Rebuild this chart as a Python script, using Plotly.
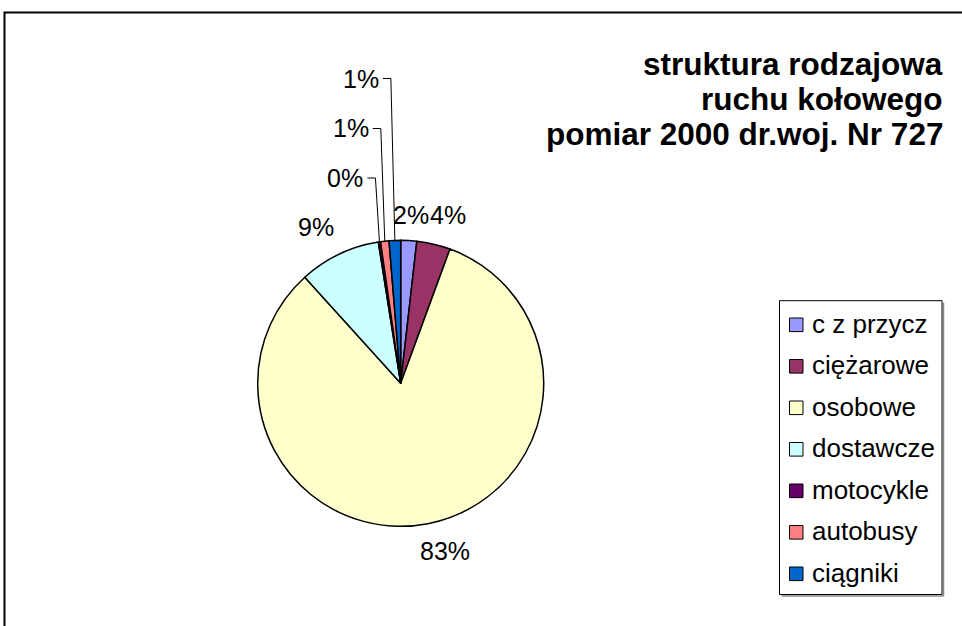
import math
import plotly.graph_objects as go

# ---- data ----
categories = ["c z przycz", "ciężarowe", "osobowe", "dostawcze", "motocykle", "autobusy", "ciągniki"]
values = [1.8, 3.8, 82.7, 9.2, 0.25, 0.95, 1.3]
colors = ["#9999FF", "#993366", "#FFFFCC", "#CCFFFF", "#660066", "#FF8080", "#0066CC"]
title_lines = ["struktura rodzajowa", "ruchu kołowego", "pomiar 2000 dr.woj. Nr 727"]

# ---- layout constants (pixels) ----
W, H = 962, 626
CX, CY, R = 400.7, 383.3, 143.0
FONT = "Liberation Sans, Arial, sans-serif"


def px(x):
    return x / W


def py(y):
    return 1 - y / H


total = sum(values)
pct_text = [f"{round(v / total * 100)}%" for v in values]

fig = go.Figure(
    go.Pie(
        labels=categories,
        values=values,
        sort=False,
        direction="clockwise",
        rotation=0,
        textinfo="none",
        hoverinfo="label+percent",
        showlegend=False,
        marker=dict(colors=colors, line=dict(color="black", width=1.5)),
        domain=dict(x=[px(CX - R), px(CX + R)], y=[py(CY + R), py(CY - R)]),
    )
)

# mid angles of slices (clockwise from 12 o'clock)
mids = []
cum = 0.0
for v in values:
    mids.append((cum + v / 2) / total * 360)
    cum += v

annotations = []
shapes = []

label_font = dict(family=FONT, size=25, color="black")
label_nudge = {0: (1, 3), 1: (8, -1), 2: (12, -1), 3: (-11, -1.5)}
leader_y = [178, 128.5, 78.5]
small = [i for i, v in enumerate(values) if v / total < 0.015]

for i, (t, a) in enumerate(zip(pct_text, mids)):
    th = math.radians(a)
    if i in small:
        k = small.index(i)
        ex, ey = CX + R * math.sin(th), CY - R * math.cos(th)
        ly = leader_y[k]
        elx = ex - 4
        sx = elx - 8
        shapes.append(dict(
            type="path", xref="paper", yref="paper",
            path=f"M {px(ex)} {py(ey)} L {px(elx)} {py(ly)} L {px(sx)} {py(ly)}",
            line=dict(color="black", width=1),
        ))
        annotations.append(dict(
            x=px(sx - 2), y=py(ly), xref="paper", yref="paper", text=t,
            showarrow=False, xanchor="right", yanchor="middle", font=label_font,
        ))
    else:
        r = 1.2 * R
        lx, ly = CX + r * math.sin(th), CY - r * math.cos(th)
        dx, dy = label_nudge.get(i, (0, 0))
        annotations.append(dict(
            x=px(lx + dx), y=py(ly + dy), xref="paper", yref="paper", text=t,
            showarrow=False, xanchor="center", yanchor="middle", font=label_font,
        ))

# title (three right-aligned bold lines)
title_mid_y = [64.5, 99.5, 134.0]
for line, m in zip(title_lines, title_mid_y):
    annotations.append(dict(
        x=px(945), y=py(m), xref="paper", yref="paper",
        text=f"<b>{line}</b>", showarrow=False, xanchor="right", yanchor="middle",
        font=dict(family=FONT, size=31.5, color="black"),
    ))

# legend (box, swatches, texts)
LX0, LY0, LX1, LY1 = 779.5, 300.7, 942.0, 594.5
shapes.append(dict(type="line", xref="paper", yref="paper",
                   x0=px(LX1 + 1.5), y0=py(LY0 + 2), x1=px(LX1 + 1.5), y1=py(LY1 + 1.5),
                   line=dict(color="#888888", width=1.5)))
shapes.append(dict(type="line", xref="paper", yref="paper",
                   x0=px(LX0 + 2), y0=py(LY1 + 1.5), x1=px(LX1 + 1.5), y1=py(LY1 + 1.5),
                   line=dict(color="#888888", width=1.5)))
shapes.append(dict(type="rect", xref="paper", yref="paper",
                   x0=px(LX0), y0=py(LY0), x1=px(LX1), y1=py(LY1),
                   line=dict(color="black", width=1), fillcolor="white"))
for i, (name, c) in enumerate(zip(categories, colors)):
    yc = 324.8 + 41.5 * i
    shapes.append(dict(type="rect", xref="paper", yref="paper",
                       x0=px(789.5), y0=py(yc - 6.8), x1=px(803), y1=py(yc + 6.8),
                       line=dict(color="black", width=1), fillcolor=c))
    annotations.append(dict(
        x=px(810), y=py(yc - 1), xref="paper", yref="paper", text=name,
        showarrow=False, xanchor="left", yanchor="middle",
        font=dict(family=FONT, size=26, color="black"),
    ))

# outer chart frame (extends beyond the visible window)
shapes.append(dict(type="rect", xref="paper", yref="paper",
                   x0=px(4.5), y0=py(12.5), x1=px(990), y1=py(660),
                   line=dict(color="black", width=2)))

fig.update_layout(
    width=W, height=H,
    margin=dict(l=0, r=0, t=0, b=0),
    paper_bgcolor="white", plot_bgcolor="white",
    showlegend=False,
    annotations=annotations,
    shapes=shapes,
)

fig.write_html(
    "out.html",
    config={"displayModeBar": False},
    post_script="document.body.style.margin='0';document.body.style.overflow='hidden';",
)
